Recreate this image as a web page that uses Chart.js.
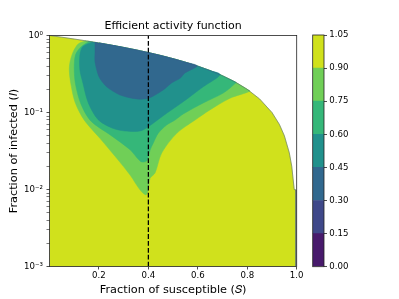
<!DOCTYPE html>
<html>
<head>
<meta charset="utf-8">
<script src="https://cdn.jsdelivr.net/npm/chart.js@4.4.0/dist/chart.umd.min.js"></script>
<style>
  html, body { margin: 0; padding: 0; background: #fff; }
  #wrap { position: relative; width: 399px; height: 299px; }
  #main { position: absolute; left: 0; top: 0; }
  #cbar { position: absolute; left: 300px; top: 0; }
</style>
</head>
<body>
<div id="wrap">
  <canvas id="main" width="399" height="299"></canvas>
  <canvas id="cbar" width="99" height="299"></canvas>
</div>
<script>
// edge of the valid region (above it nothing is drawn)
const edgeS = [0, 0.05, 0.1, 0.15, 0.2, 0.25, 0.3, 0.35, 0.4, 0.45, 0.5, 0.55, 0.6, 0.65, 0.7, 0.75, 0.8, 0.85, 0.9, 0.93, 0.95, 0.97, 0.98, 0.99];
const edgeI = [1, 0.95, 0.9, 0.85, 0.8, 0.75, 0.7, 0.65, 0.6, 0.55, 0.5, 0.45, 0.4, 0.35, 0.3, 0.25, 0.2, 0.15, 0.1, 0.07, 0.05, 0.03, 0.02, 0.01];

// contour lines (S, I)
const c90S = [0.148, 0.117, 0.096, 0.083, 0.080, 0.085, 0.103, 0.140, 0.204, 0.272, 0.326, 0.366, 0.390, 0.400, 0.407, 0.427, 0.454, 0.515, 0.589, 0.649, 0.730, 0.811];
const c90I = [0.852, 0.780, 0.616, 0.453, 0.356, 0.249, 0.137, 0.080, 0.0462, 0.0254, 0.0154, 0.0099, 0.0085, 0.0099, 0.0140, 0.0164, 0.0298, 0.0537, 0.0799, 0.108, 0.153, 0.189];

const c75S = [0.160, 0.125, 0.105, 0.100, 0.105, 0.127, 0.167, 0.250, 0.325, 0.370, 0.393, 0.400, 0.407, 0.420, 0.440, 0.474, 0.508, 0.541, 0.622, 0.703, 0.755];
const c75I = [0.840, 0.700, 0.558, 0.378, 0.234, 0.129, 0.0776, 0.050, 0.033, 0.0230, 0.0234, 0.0264, 0.0326, 0.0402, 0.0537, 0.0688, 0.0799, 0.0957, 0.133, 0.179, 0.245];

const c60S = [0.175, 0.135, 0.123, 0.123, 0.135, 0.157, 0.197, 0.253, 0.305, 0.366, 0.400, 0.474, 0.541, 0.622, 0.690];
const c60I = [0.825, 0.720, 0.558, 0.356, 0.242, 0.133, 0.0806, 0.0629, 0.0575, 0.0575, 0.0655, 0.0977, 0.138, 0.216, 0.310];

const c45S = [0.184, 0.184, 0.184, 0.197, 0.208, 0.231, 0.285, 0.353, 0.400, 0.460, 0.494, 0.528, 0.548, 0.597];
const c45I = [0.816, 0.600, 0.457, 0.307, 0.264, 0.216, 0.169, 0.150, 0.153, 0.196, 0.242, 0.278, 0.326, 0.403];

const markS = 0.4;
const xTicks = [0.2, 0.4, 0.6, 0.8, 1.0];
const yMajor = [0.001, 0.01, 0.1, 1];
const yLabels = ['10\u207B\u00B3', '10\u207B\u00B2', '10\u207B\u00B9', '10\u2070'];

const cbLevels = [0, 0.15, 0.30, 0.45, 0.60, 0.75, 0.90, 1.05];
const bandColors = ['#481a6c', '#3f4889', '#31688e', '#21918c', '#35b779', '#70cf57', '#d0e11c'];

const FONT = 'DejaVu Sans';

function pts(S, I) {
  return S.map((s, k) => ({x: s, y: I[k]}));
}

// contour from its left end on the edge to its right end, closed back along the edge
function band(cS, cI) {
  const p = pts(cS, cI);
  const sL = cS[0], sR = cS[cS.length - 1];
  for (let k = edgeS.length - 1; k >= 0; k--) {
    if (edgeS[k] > sL && edgeS[k] < sR) p.push({x: edgeS[k], y: edgeI[k]});
  }
  return p;
}

function area(data, color, order, tension) {
  return {
    data: data, showLine: true, fill: 'shape', tension: tension,
    backgroundColor: color, borderColor: color, borderWidth: 0.5,
    pointRadius: 0, order: order
  };
}

const yellow = pts(edgeS, edgeI).concat([{x: 0.995, y: 0.0099}, {x: 0.995, y: 0.001}, {x: 0, y: 0.001}]);

// box round the plot area, like matplotlib spines
const frame = {
  id: 'frame',
  afterDraw(chart) {
    const a = chart.chartArea, ctx = chart.ctx;
    ctx.save();
    ctx.strokeStyle = '#222';
    ctx.lineWidth = 0.8;
    ctx.strokeRect(a.left, a.top, a.right - a.left, a.bottom - a.top);
    ctx.restore();
  }
};

new Chart(document.getElementById('main'), {
  type: 'scatter',
  data: {
    datasets: [
      {
        data: [{x: markS, y: 0.001}, {x: markS, y: 1}], showLine: true,
        borderColor: '#000', borderWidth: 1.3, borderDash: [4.8, 2.1],
        pointRadius: 0, fill: false, order: 0
      },
      {
        // thin fringe along the edge of the valid region
        data: pts(edgeS, edgeI).concat([{x: 0.997, y: 0.0099}, {x: 0.997, y: 0.001}]), showLine: true,
        borderColor: 'rgba(59,82,139,0.55)', borderWidth: 0.9, pointRadius: 0, fill: false, order: 1
      },
      area(band(c45S, c45I), bandColors[2], 2, 0.3),
      area(band(c60S, c60I), bandColors[3], 3, 0.3),
      area(band(c75S, c75I), bandColors[4], 4, 0.3),
      area(band(c90S, c90I), bandColors[5], 5, 0.3),
      area(yellow, bandColors[6], 6, 0)
    ]
  },
  options: {
    responsive: false,
    animation: false,
    layout: {padding: {left: 0, right: 102.3, top: 0, bottom: 0}},
    plugins: {
      legend: {display: false},
      tooltip: {enabled: false},
      title: {
        display: true, text: 'Efficient activity function', fullSize: false,
        color: '#000', padding: {top: 19.4, bottom: 2.9},
        font: {family: FONT, size: 11, weight: 'normal', lineHeight: 1.2}
      }
    },
    scales: {
      x: {
        type: 'linear', min: 0, max: 1,
        afterBuildTicks: s => { s.ticks = xTicks.map(v => ({value: v})); },
        afterFit: s => { s.height = 32.5; },
        ticks: {
          autoSkip: false, maxRotation: 0, padding: 1, color: '#000',
          font: {family: FONT, size: 8.6},
          callback: v => v.toFixed(1)
        },
        grid: {drawOnChartArea: false, tickLength: 3, tickColor: '#222', tickWidth: 0.8},
        border: {display: false},
        title: {
          display: true, text: 'Fraction of susceptible (\uD835\uDC46)', color: '#000',
          padding: {top: 0, bottom: 2.2},
          font: {family: FONT, size: 11.3, lineHeight: 1.2}
        }
      },
      y: {
        type: 'logarithmic', min: 0.001, max: 1,
        afterBuildTicks: s => {
          const t = [];
          yMajor.forEach((m, k) => {
            t.push({value: m});
            if (k < yMajor.length - 1) for (let j = 2; j <= 9; j++) t.push({value: m * j});
          });
          s.ticks = t;
        },
        afterFit: s => { s.width = 49.5; },
        ticks: {
          autoSkip: false, padding: 3.5, color: '#000',
          font: {family: FONT, size: 8.6},
          callback: v => {
            const k = yMajor.indexOf(v);
            return k >= 0 ? yLabels[k] : '';
          }
        },
        grid: {
          drawOnChartArea: false, tickLength: 3, tickColor: '#222',
          tickWidth: c => (c.tick && yMajor.indexOf(c.tick.value) >= 0 ? 0.8 : 0.6)
        },
        border: {display: false},
        title: {
          display: true, text: 'Fraction of infected (\uD835\uDC3C)', color: '#000',
          padding: {top: 7.2, bottom: 0},
          font: {family: FONT, size: 11.3, lineHeight: 1.2}
        }
      }
    }
  },
  plugins: [frame]
});

// colour bar
new Chart(document.getElementById('cbar'), {
  type: 'bar',
  data: {
    labels: [''],
    datasets: bandColors.map((c, i) => ({
      data: [[cbLevels[i], cbLevels[i + 1]]],
      backgroundColor: c, borderWidth: 0,
      barPercentage: 1, categoryPercentage: 1, grouped: false
    }))
  },
  options: {
    responsive: false,
    animation: false,
    layout: {padding: {left: 12.7, right: 0, top: 35, bottom: 32.3}},
    plugins: {legend: {display: false}, tooltip: {enabled: false}},
    scales: {
      x: {display: false},
      y: {
        position: 'right', min: 0, max: 1.05,
        afterBuildTicks: s => { s.ticks = cbLevels.map(v => ({value: v})); },
        afterFit: s => { s.width = 75; },
        ticks: {
          autoSkip: false, padding: 2.3, color: '#000',
          font: {family: FONT, size: 8.6},
          callback: v => v.toFixed(2)
        },
        grid: {drawOnChartArea: false, tickLength: 3, tickColor: '#222', tickWidth: 0.8},
        border: {display: false}
      }
    }
  },
  plugins: [frame]
});
</script>
</body>
</html>
